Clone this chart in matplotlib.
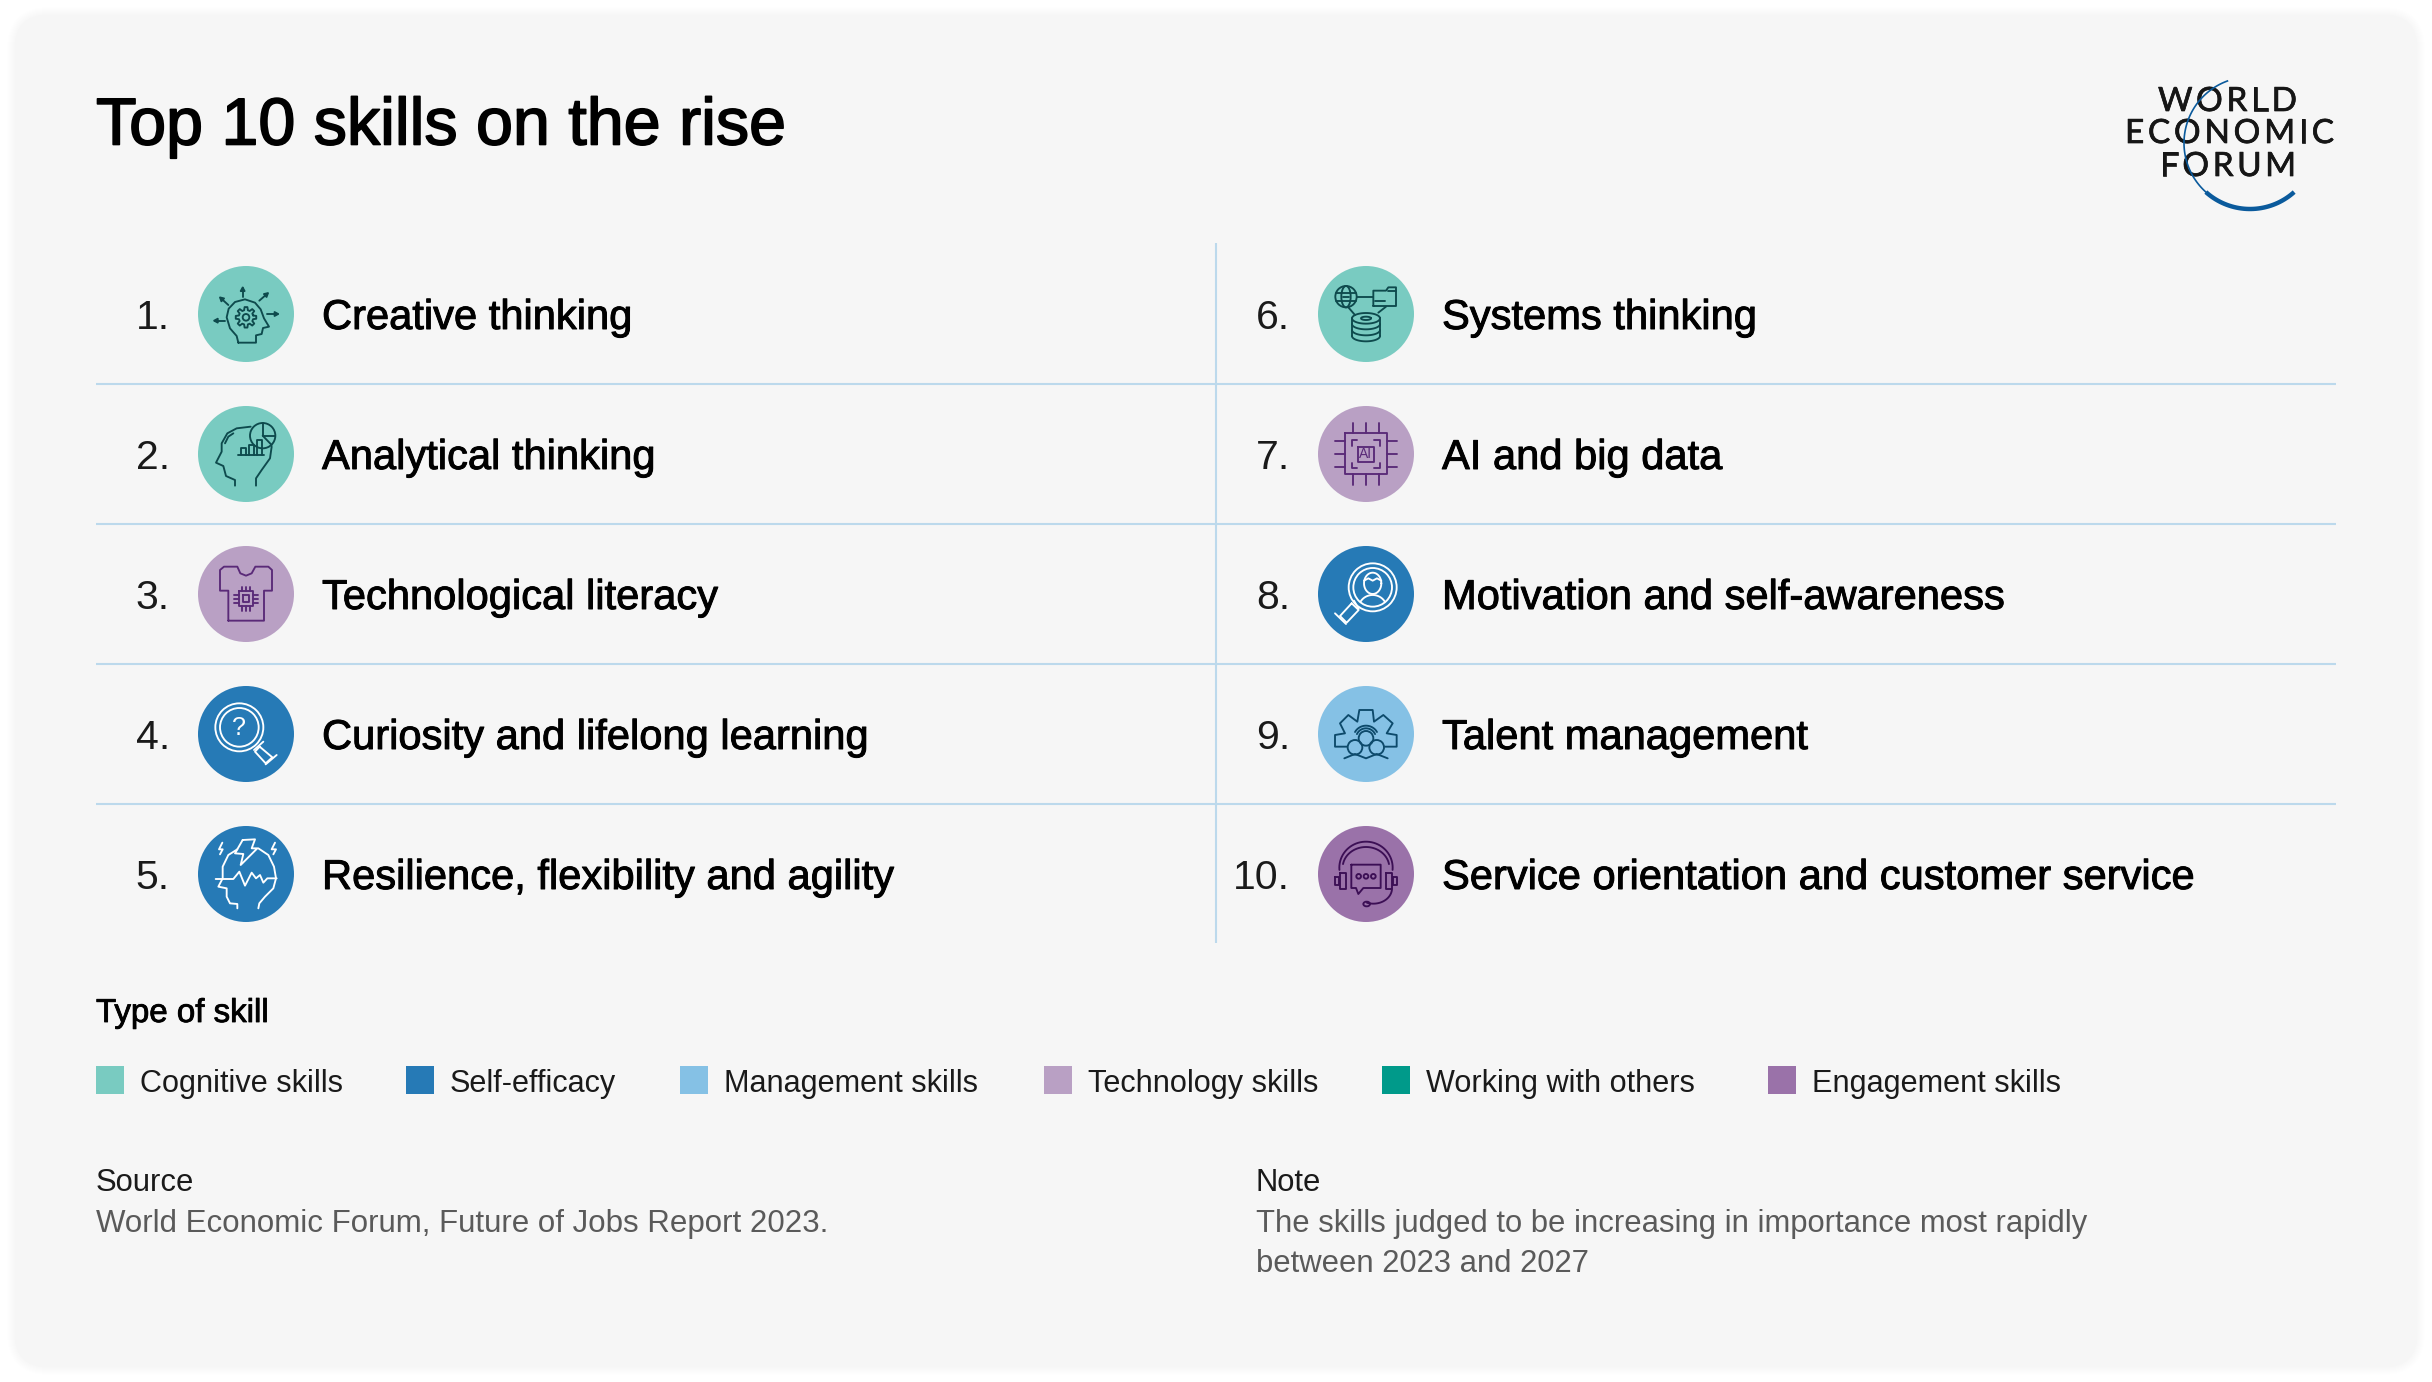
import numpy as np
import matplotlib
matplotlib.use("Agg")
from matplotlib import pyplot as plt
from matplotlib import patheffects as pe
from matplotlib.patches import Circle, FancyBboxPatch, Rectangle, Ellipse

plt.rcParams['font.family'] = ['Liberation Sans', 'DejaVu Sans']

# the chart data
title = "Top 10 skills on the rise"
skills = ["Creative thinking", "Analytical thinking", "Technological literacy",
          "Curiosity and lifelong learning", "Resilience, flexibility and agility",
          "Systems thinking", "AI and big data", "Motivation and self-awareness",
          "Talent management", "Service orientation and customer service"]
skill_types = ["Cognitive skills", "Cognitive skills", "Technology skills",
               "Self-efficacy", "Self-efficacy",
               "Cognitive skills", "Technology skills", "Self-efficacy",
               "Management skills", "Engagement skills"]
legend_labels = ["Cognitive skills", "Self-efficacy", "Management skills",
                 "Technology skills", "Working with others", "Engagement skills"]
legend_colors = ["#79cbc1", "#267ab6", "#85c1e5", "#b9a0c4", "#009a8a", "#9a72a9"]
source_text = "World Economic Forum, Future of Jobs Report 2023."
note_lines = ["The skills judged to be increasing in importance most rapidly",
              "between 2023 and 2027"]

# pixel layout of the card
row_y = [314, 454, 594, 734, 874]
col_num_x = [170, 1290]
col_icon_x = [246, 1366]
col_text_x = [322, 1442]
legend_x = [96, 406, 680, 1044, 1382, 1768]
line_col = "#bcd9ec"
ICON_LW = 1.35

fig = plt.figure(figsize=(24.32, 13.82), dpi=100, facecolor="white")
ax = fig.add_axes([0, 0, 1, 1])
ax.set_xlim(0, 2432)
ax.set_ylim(1382, 0)
ax.axis("off")

# soft shadow, then the card
for i in range(8, 0, -1):
    ax.add_patch(FancyBboxPatch((15 - i, 15 - i), 2402 + 2 * i, 1352 + 2 * i,
                                boxstyle="round,pad=0,rounding_size=%d" % (34 + i),
                                fc="black", ec="none", alpha=0.0035))
ax.add_patch(FancyBboxPatch((15, 15), 2402, 1352, boxstyle="round,pad=0,rounding_size=34",
                            fc="#f6f6f6", ec="none"))


def medium(w):
    return [pe.withStroke(linewidth=w, foreground="black")]


# zoomed icon sketches are in 3x units around their own origin
def pts(c, o, p):
    return (np.array(p, dtype=float) - np.array(o)) / 3 + np.array(c)


def line(c, o, p, col, closed=False, lw=ICON_LW):
    a = pts(c, o, p)
    if closed:
        a = np.vstack([a, a[0]])
    ax.plot(a[:, 0], a[:, 1], color=col, lw=lw, solid_joinstyle="round",
            solid_capstyle="round", zorder=4)


def ring(c, o, x, y, r, col, lw=ICON_LW):
    p = pts(c, o, [(x, y)])[0]
    ax.add_patch(Circle(p, r / 3, fill=False, ec=col, lw=lw, zorder=4))


def arc(c, o, x, y, rx, ry, a0, a1, col, lw=ICON_LW):
    t = np.radians(np.linspace(a0, a1, 40))
    line(c, o, np.column_stack([x + rx * np.cos(t), y - ry * np.sin(t)]), col, lw=lw)


def rect(c, o, x0, y0, x1, y1, col):
    line(c, o, [(x0, y0), (x1, y0), (x1, y1), (x0, y1)], col, closed=True)


def arrow(c, o, p0, p1, col):
    p0, p1 = np.array(p0, float), np.array(p1, float)
    d = (p1 - p0) / np.hypot(*(p1 - p0))
    n = np.array([-d[1], d[0]])
    line(c, o, [p0, p1], col)
    tri = pts(c, o, [p1 + d * 4, p1 - d * 9 + n * 7, p1 - d * 9 - n * 7])
    ax.fill(tri[:, 0], tri[:, 1], color=col, zorder=4)


def gear(c, o, x, y, r0, r1, col, teeth=8):
    p = []
    for k in range(teeth):
        a = 2 * np.pi * k / teeth
        w = np.pi / teeth * 0.5
        for rr, da in [(r0, -w * 1.3), (r1, -w * 0.7), (r1, w * 0.7), (r0, w * 1.3)]:
            p.append((x + rr * np.cos(a + da), y + rr * np.sin(a + da)))
    line(c, o, p, col, closed=True)


def icon_creative(c, col):
    o = (168, 162)
    line(c, o, [(145, 248), (198, 248), (198, 226), (215, 222), (219, 204), (237, 200), (222, 175),
                (212, 148), (195, 128), (165, 118), (135, 126), (116, 146), (110, 172), (120, 205),
                (140, 228), (145, 248)], col)
    gear(c, o, 168, 172, 22, 31, col)
    ring(c, o, 168, 172, 10, col)
    arrow(c, o, (158, 112), (158, 85), col)
    arrow(c, o, (115, 135), (92, 114), col)
    arrow(c, o, (208, 122), (232, 101), col)
    arrow(c, o, (232, 162), (262, 162), col)
    arrow(c, o, (105, 182), (75, 182), col)


def icon_analytical(c, col):
    o = (168, 162)
    line(c, o, [(135, 257), (135, 240), (108, 228), (100, 198), (78, 188), (95, 155), (95, 130),
                (112, 100), (140, 85), (182, 80)], col)
    line(c, o, [(245, 140), (240, 175), (215, 210), (198, 235), (198, 257)], col)
    line(c, o, [(105, 130), (115, 110), (130, 100)], col)
    ring(c, o, 218, 107, 38, col)
    line(c, o, [(218, 69), (218, 107), (256, 107)], col)
    line(c, o, [(218, 107), (245, 135)], col)
    line(c, o, [(145, 164), (222, 164)], col)
    for x0, h in [(153, 20), (178, 30), (200, 45)]:
        line(c, o, [(x0, 164), (x0, 164 - h), (x0 + 15, 164 - h), (x0 + 15, 164)], col)


def icon_literacy(c, col):
    o = (288, 222)
    line(c, o, [(235, 302), (342, 302), (342, 212), (366, 212), (366, 150), (355, 140), (316, 140),
                (305, 160), (288, 167), (271, 160), (262, 140), (222, 140), (210, 150), (210, 212),
                (235, 212), (235, 302)], col)
    rect(c, o, 266, 214, 310, 258, col)
    rect(c, o, 278, 226, 298, 246, col)
    for d in (-12, 0, 12):
        line(c, o, [(288 + d, 200), (288 + d, 214)], col)
        line(c, o, [(288 + d, 258), (288 + d, 272)], col)
        line(c, o, [(252, 236 + d), (266, 236 + d)], col)
        line(c, o, [(310, 236 + d), (324, 236 + d)], col)


def handle(c, o, neck, body, cap, col):
    line(c, o, neck, col)
    line(c, o, body, col, closed=True)
    line(c, o, cap, col)


def icon_curiosity(c, col):
    o = (288, 642)
    ring(c, o, 268, 622, 72, col)
    ring(c, o, 268, 622, 58, col)
    ax.text(*pts(c, o, [(267, 624)])[0], "?", color=col, fontsize=18, ha="center", va="center", zorder=4)
    handle(c, o, [(340, 665), (312, 690)], [(329, 680), (367, 712), (347, 730), (315, 695)],
           [(380, 705), (347, 733)], col)


def icon_resilience(c, col):
    o = (288, 1062)
    line(c, o, [(262, 1165), (262, 1152), (240, 1150), (230, 1130), (230, 1105), (205, 1100),
                (218, 1075), (218, 1040), (235, 1005), (262, 988)], col)
    line(c, o, [(325, 985), (355, 1005), (372, 1040), (378, 1075), (370, 1105), (345, 1130),
                (328, 1150), (325, 1165)], col)
    line(c, o, [(197, 1077), (250, 1077), (268, 1055), (285, 1097), (305, 1058), (318, 1075),
                (330, 1065), (340, 1088), (352, 1075), (380, 1075)], col)
    line(c, o, [(278, 960), (315, 958), (305, 985), (322, 985), (272, 1035), (280, 1002), (255, 1000)],
         col, closed=True)
    line(c, o, [(217, 968), (207, 988), (218, 988), (210, 1003)], col)
    line(c, o, [(375, 968), (365, 988), (378, 988), (370, 1003)], col)


def icon_systems(c, col):
    o = (258, 192)
    ring(c, o, 198, 140, 32, col)
    p = pts(c, o, [(198, 140)])[0]
    ax.add_patch(Ellipse(p, 2 * 14 / 3, 2 * 32 / 3, fill=False, ec=col, lw=ICON_LW, zorder=4))
    line(c, o, [(168, 128), (228, 128)], col)
    line(c, o, [(168, 152), (228, 152)], col)
    line(c, o, [(190, 140), (208, 140)], col)
    line(c, o, [(230, 140), (280, 140)], col)
    line(c, o, [(280, 168), (348, 168), (348, 112), (325, 112), (318, 122), (280, 122)], col, closed=True)
    line(c, o, [(285, 152), (315, 152)], col)
    line(c, o, [(325, 122), (348, 122)], col)
    line(c, o, [(205, 172), (225, 195)], col)
    line(c, o, [(318, 170), (295, 188)], col)
    arc(c, o, 258, 205, 42, 16, 0, 360, col)
    arc(c, o, 258, 205, 15, 5, 0, 360, col)
    line(c, o, [(216, 205), (216, 258)], col)
    line(c, o, [(300, 205), (300, 258)], col)
    for y in (222, 240, 258):
        arc(c, o, 258, y, 42, 16, 180, 360, col)


def icon_ai(c, col):
    o = (258, 612)
    rect(c, o, 195, 550, 320, 672, col)
    for x0, x1, y0, y1 in [(232, 215, 570, 587), (283, 300, 570, 587), (232, 215, 655, 638), (283, 300, 655, 638)]:
        line(c, o, [(x0, y0), (x1, y0), (x1, y1)], col)
    rect(c, o, 235, 590, 282, 635, col)
    ax.text(*pts(c, o, [(258, 613)])[0], "AI", color=col, fontsize=10, ha="center", va="center", zorder=4)
    for d in (-39, 0, 38):
        line(c, o, [(258 + d, 520), (258 + d, 550)], col)
        line(c, o, [(258 + d, 672), (258 + d, 704)], col)
        line(c, o, [(165, 612 + d), (195, 612 + d)], col)
        line(c, o, [(320, 612 + d), (350, 612 + d)], col)


def icon_motivation(c, col):
    o = (258, 1032)
    ring(c, o, 278, 1012, 72, col)
    ring(c, o, 278, 1012, 58, col)
    arc(c, o, 278, 1000, 26, 32, 0, 360, col)
    line(c, o, [(252, 992), (265, 985), (278, 992), (291, 985), (304, 992)], col)
    arc(c, o, 278, 1075, 42, 40, 30, 150, col)
    line(c, o, [(236, 1076), (222, 1052)], col)
    line(c, o, [(215, 1060), (236, 1080), (200, 1118), (180, 1098)], col, closed=True)
    line(c, o, [(165, 1090), (198, 1122)], col)


def icon_talent(c, col):
    o = (258, 642)
    line(c, o, [(200, 680), (165, 680), (165, 645), (195, 640), (180, 610), (205, 585), (232, 605),
                (238, 570), (278, 570), (282, 605), (310, 585), (338, 610), (320, 640), (350, 645),
                (350, 680), (315, 680)], col)
    ring(c, o, 258, 655, 22, col)
    ring(c, o, 225, 682, 22, col)
    ring(c, o, 290, 682, 22, col)
    line(c, o, [(193, 715), (225, 702), (258, 715), (290, 702), (323, 715)], col)
    arc(c, o, 258, 655, 30, 30, 25, 155, col)
    arc(c, o, 258, 655, 38, 38, 30, 150, col)


def icon_service(c, col):
    o = (258, 1062)
    arc(c, o, 258, 1043, 80, 78, -5, 185, col)
    arc(c, o, 258, 1043, 70, 62, 10, 170, col)
    rect(c, o, 180, 1060, 198, 1108, col)
    rect(c, o, 318, 1060, 336, 1108, col)
    rect(c, o, 166, 1072, 178, 1095, col)
    rect(c, o, 338, 1072, 350, 1095, col)
    line(c, o, [(214, 1034), (302, 1034), (302, 1104), (250, 1104), (235, 1122), (228, 1104), (214, 1104)],
         col, closed=True)
    for x in (236, 258, 280):
        ring(c, o, x, 1069, 7, col)
    arc(c, o, 280, 1105, 56, 46, 355, 250, col)
    p = pts(c, o, [(260, 1152)])[0]
    ax.add_patch(Ellipse(p, 20 / 3, 14 / 3, fill=False, ec=col, lw=ICON_LW, zorder=4))


icon_funcs = [icon_creative, icon_analytical, icon_literacy, icon_curiosity, icon_resilience,
              icon_systems, icon_ai, icon_motivation, icon_talent, icon_service]
stroke_by_type = {"Cognitive skills": "#0e4a4d", "Self-efficacy": "white", "Management skills": "#0d4a6b",
                  "Technology skills": "#5a2a78", "Engagement skills": "#3c0f55"}

# title
ax.text(96, 144.5, title, fontsize=47.8, color="black", va="baseline", path_effects=medium(1.2))

# separators
for y in [384, 524, 664, 804]:
    ax.plot([96, 2336], [y, y], color=line_col, lw=1.5, zorder=1, solid_capstyle="butt")
ax.plot([1216, 1216], [243, 943], color=line_col, lw=1.5, zorder=1, solid_capstyle="butt")

# the ten ranked skills
for i, skill in enumerate(skills):
    col = i // 5
    y = row_y[i % 5]
    ctr = (col_icon_x[col], y)
    stype = skill_types[i]
    ax.add_patch(Circle(ctr, 48, fc=legend_colors[legend_labels.index(stype)], ec="none", zorder=3))
    icon_funcs[i](ctr, stroke_by_type[stype])
    ax.text(col_num_x[col], y + 15, "%d." % (i + 1), fontsize=29.5, color="#1a1a1a", ha="right", va="baseline")
    ax.text(col_text_x[col], y + 15, skill, fontsize=30, color="black", va="baseline",
            path_effects=medium(0.7))

# legend
ax.text(96, 1022, "Type of skill", fontsize=23.8, color="black", va="baseline", path_effects=medium(0.6))
for x, lab, c in zip(legend_x, legend_labels, legend_colors):
    ax.add_patch(Rectangle((x, 1066), 28, 28, fc=c, ec="none"))
    ax.text(x + 44, 1092, lab, fontsize=22.1, color="#1a1a1a", va="baseline")

# source and note
ax.text(96, 1191, "Source", fontsize=22.3, color="#1a1a1a", va="baseline")
ax.text(96, 1232, source_text, fontsize=22.5, color="#5a5a5a", va="baseline")
ax.text(1256, 1191, "Note", fontsize=22.3, color="#1a1a1a", va="baseline")
for k, txt in enumerate(note_lines):
    ax.text(1256, 1232 + 40 * k, txt, fontsize=22.3, color="#5a5a5a", va="baseline")


# logo: letters spread out to the measured line widths
def spaced(word, x0, x1, base):
    rend = fig.canvas.get_renderer()
    items = [ax.text(0, base, ch, fontsize=24, family="Lato", color="#161616", va="baseline",
                     path_effects=[pe.withStroke(linewidth=0.5, foreground="#161616")]) for ch in word]
    w = [t.get_window_extent(rend).width for t in items]
    gap = ((x1 - x0) - sum(w)) / (len(word) - 1)
    x = x0
    for t, wi in zip(items, w):
        t.set_x(x)
        x += wi + gap


spaced("WORLD", 2158, 2297, 111)
spaced("ECONOMIC", 2125, 2334, 143)
spaced("FORUM", 2160, 2296, 176)

logo_blue = "#0a5a9c"
t = np.radians(np.linspace(110, 228, 60))
ax.plot(2250 + 66 * np.cos(t), 143 + 66 * np.sin(t) * -1, color=logo_blue, lw=1.2, zorder=5)
t = np.radians(np.linspace(228, 312, 40))
ax.plot(2250 + 66 * np.cos(t), 143 + 66 * np.sin(t) * -1, color=logo_blue, lw=3.2, zorder=5,
        solid_capstyle="butt")

fig.savefig("out.png", dpi=100, facecolor="white")
